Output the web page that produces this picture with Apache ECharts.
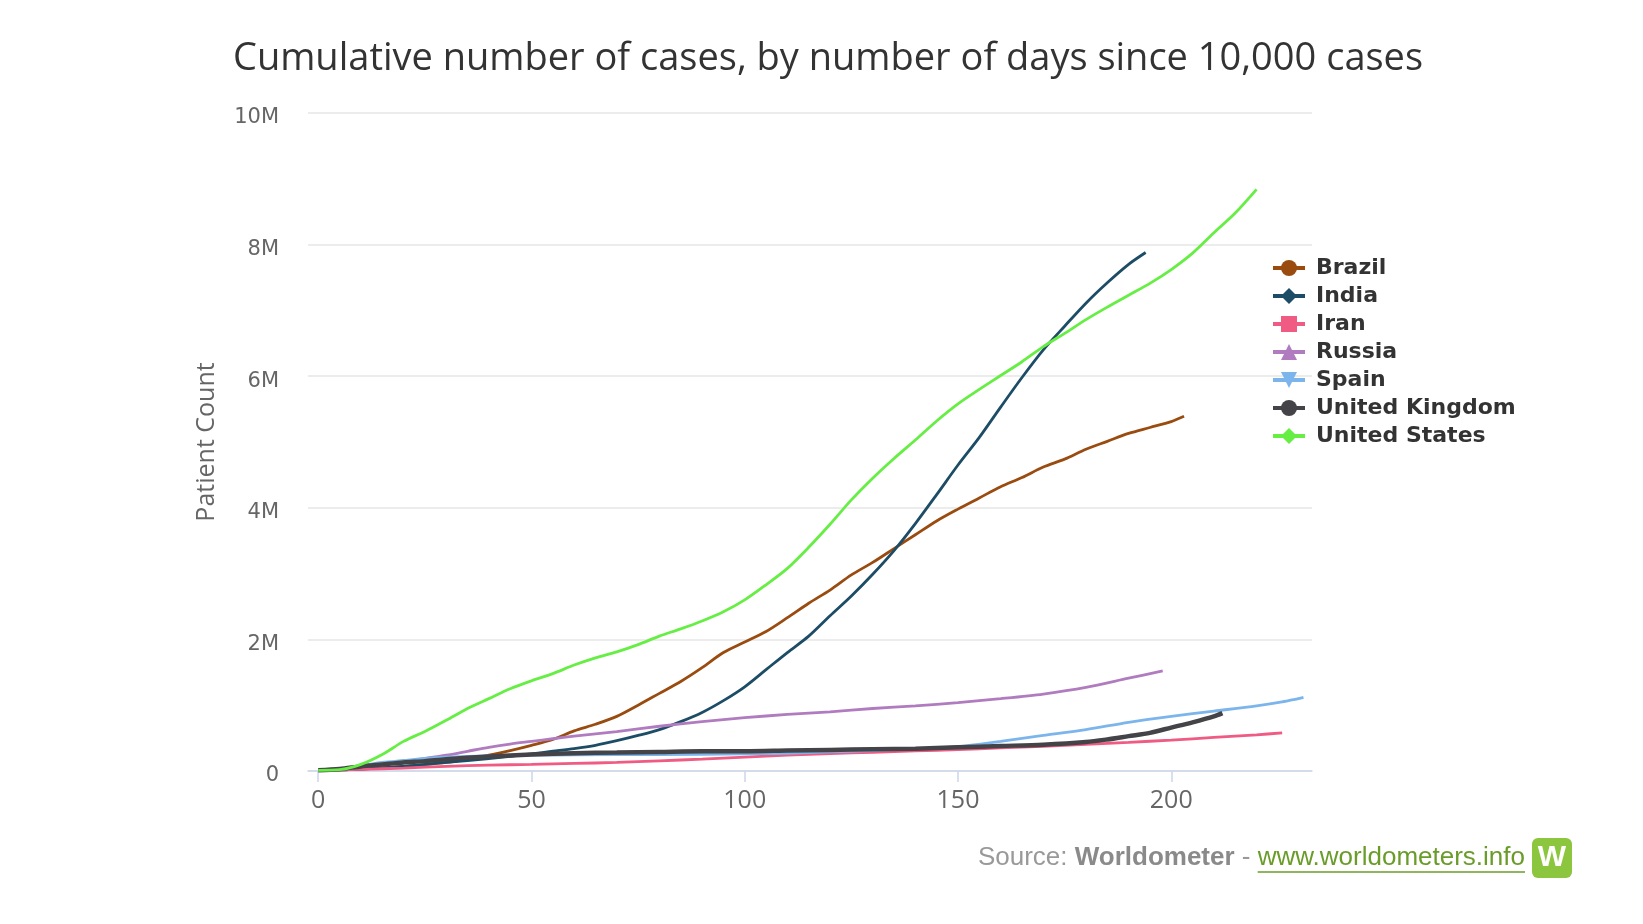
<!DOCTYPE html>
<html><head><meta charset="utf-8">
<script src="https://cdn.jsdelivr.net/npm/echarts@6/dist/echarts.min.js"></script>
<style>html,body{margin:0;padding:0;background:#fff}#c{width:1643px;height:924px}</style>
</head><body><div id="c"></div>
<script>
// ---- DATA (days since 10,000 cases; cumulative cases in millions) ----
const titleText = 'Cumulative number of cases, by number of days since 10,000 cases';
const yAxisName = 'Patient Count';
const xTickValues = [0, 50, 100, 150, 200];
const yTickLabels = ['0', '2M', '4M', '6M', '8M', '10M'];
const seriesNames = ['Brazil', 'India', 'Iran', 'Russia', 'Spain', 'United Kingdom', 'United States'];

const brazilDays  = [0, 10, 20, 30, 40, 45, 50, 55, 60, 65, 70, 75, 80, 85, 90, 95, 100, 105, 110, 115, 120, 125, 130, 135, 140, 145, 150, 155, 160, 165, 170, 175, 180, 185, 190, 195, 200, 203];
const brazilCases = [0.01, 0.03, 0.07, 0.13, 0.24, 0.31, 0.39, 0.48, 0.61, 0.71, 0.83, 1.00, 1.18, 1.36, 1.57, 1.80, 1.96, 2.12, 2.33, 2.55, 2.75, 2.98, 3.17, 3.38, 3.59, 3.80, 3.98, 4.15, 4.32, 4.46, 4.62, 4.74, 4.89, 5.01, 5.13, 5.22, 5.31, 5.39];

const indiaDays  = [0, 10, 20, 30, 40, 50, 55, 60, 65, 70, 75, 80, 85, 90, 95, 100, 105, 110, 115, 120, 125, 130, 135, 140, 145, 150, 155, 160, 165, 170, 175, 180, 185, 190, 194];
const indiaCases = [0.01, 0.03, 0.07, 0.13, 0.19, 0.26, 0.30, 0.34, 0.39, 0.46, 0.54, 0.63, 0.75, 0.89, 1.07, 1.28, 1.54, 1.80, 2.05, 2.36, 2.66, 2.99, 3.35, 3.76, 4.20, 4.65, 5.07, 5.53, 5.98, 6.40, 6.76, 7.11, 7.42, 7.70, 7.88];

const iranDays  = [0, 10, 20, 30, 40, 50, 60, 70, 80, 90, 100, 110, 120, 130, 140, 150, 160, 170, 180, 190, 200, 210, 220, 226];
const iranCases = [0.01, 0.025, 0.045, 0.07, 0.09, 0.10, 0.115, 0.13, 0.155, 0.18, 0.21, 0.24, 0.265, 0.285, 0.305, 0.325, 0.35, 0.375, 0.405, 0.435, 0.47, 0.51, 0.55, 0.58];

const russiaDays  = [0, 10, 20, 27, 30, 35, 40, 45, 50, 55, 60, 70, 80, 90, 100, 110, 120, 130, 140, 150, 160, 170, 180, 190, 198];
const russiaCases = [0.01, 0.06, 0.14, 0.21, 0.24, 0.30, 0.36, 0.41, 0.45, 0.49, 0.53, 0.60, 0.68, 0.75, 0.81, 0.86, 0.90, 0.95, 0.99, 1.04, 1.10, 1.17, 1.27, 1.41, 1.52];

const spainDays  = [0, 5, 10, 15, 20, 25, 30, 40, 50, 60, 80, 100, 110, 120, 130, 140, 150, 160, 170, 180, 190, 200, 210, 220, 226, 229, 231];
const spainCases = [0.01, 0.03, 0.08, 0.13, 0.16, 0.19, 0.21, 0.23, 0.24, 0.245, 0.25, 0.26, 0.27, 0.29, 0.31, 0.34, 0.37, 0.45, 0.54, 0.63, 0.74, 0.83, 0.91, 0.99, 1.05, 1.09, 1.12];

const ukDays  = [0, 5, 10, 15, 20, 25, 30, 40, 50, 60, 70, 80, 90, 100, 110, 120, 130, 140, 150, 160, 170, 180, 185, 190, 195, 200, 205, 210, 212];
const ukCases = [0.01, 0.03, 0.07, 0.10, 0.13, 0.15, 0.18, 0.22, 0.25, 0.27, 0.28, 0.29, 0.30, 0.30, 0.31, 0.32, 0.33, 0.34, 0.36, 0.38, 0.40, 0.44, 0.48, 0.53, 0.58, 0.66, 0.74, 0.83, 0.88];

const usDays  = [0, 5, 10, 15, 20, 25, 30, 35, 40, 45, 50, 55, 60, 65, 70, 75, 80, 85, 90, 95, 100, 105, 110, 115, 120, 125, 130, 135, 140, 145, 150, 155, 160, 165, 170, 175, 180, 185, 190, 195, 200, 205, 210, 215, 220];
const usCases = [0.01, 0.02, 0.10, 0.25, 0.45, 0.60, 0.77, 0.95, 1.10, 1.25, 1.37, 1.48, 1.61, 1.72, 1.81, 1.92, 2.05, 2.16, 2.28, 2.42, 2.60, 2.83, 3.08, 3.40, 3.75, 4.12, 4.45, 4.75, 5.03, 5.32, 5.58, 5.80, 6.01, 6.22, 6.45, 6.65, 6.86, 7.05, 7.23, 7.41, 7.62, 7.87, 8.18, 8.48, 8.84];

// ---- STYLE ----
const seriesDays  = [brazilDays, indiaDays, iranDays, russiaDays, spainDays, ukDays, usDays];
const seriesCases = [brazilCases, indiaCases, iranCases, russiaCases, spainCases, ukCases, usCases];
const colors  = ['#9a4c10', '#1d4d66', '#ef5b82', '#b07cbf', '#7cb5ec', '#434348', '#66ee44'];
const symbols = ['circle', 'diamond', 'rect', 'triangle', 'path://M0,0 L10,0 L5,10 Z', 'circle', 'diamond'];
const widths  = [2.8, 2.8, 2.8, 2.8, 2.8, 4.5, 2.8];

const chart = echarts.init(document.getElementById('c'), null, {renderer: 'canvas'});

const series = seriesNames.map((name, i) => ({
  name: name,
  type: 'line',
  data: seriesDays[i].map((d, k) => [d, seriesCases[i][k]]),
  showSymbol: false,
  symbol: symbols[i],
  smooth: 0.3,
  color: colors[i],
  lineStyle: {width: widths[i], color: colors[i]},
  itemStyle: {color: colors[i]},
  emphasis: {disabled: true},
  animation: false
}));

// source credit measurements
const cv = document.createElement('canvas').getContext('2d');
const srcFont = 26;
cv.font = srcFont + 'px "Liberation Sans"';
const linkText = 'www.worldometers.info';
const linkW = cv.measureText(linkText).width;
const dashW = cv.measureText(' - ').width;
const srcW = cv.measureText('Source: ').width;
cv.font = 'bold ' + srcFont + 'px "Liberation Sans"';
const wmW = cv.measureText('Worldometer').width;
const linkRight = 1525, srcY = 860;
const linkLeft = linkRight - linkW;

chart.setOption({
  backgroundColor: '#ffffff',
  animation: false,
  title: {
    text: titleText,
    left: 823,
    top: 35,
    textAlign: 'center',
    textStyle: {fontFamily: 'Open Sans', fontSize: 38, fontWeight: 'normal', color: '#333333'}
  },
  legend: {
    orient: 'vertical',
    left: 1266,
    top: 252,
    itemWidth: 32,
    itemHeight: 20,
    itemGap: 6,
    data: seriesNames,
    lineStyle: {width: 4},
    textStyle: {fontFamily: 'DejaVu Sans', fontWeight: 'bold', fontSize: 22, color: '#333333', padding: [0, 0, 0, 6]},
    selectedMode: false
  },
  grid: {left: 308, right: 331, top: 113, bottom: 153, containLabel: false, outerBoundsMode: 'none'},
  xAxis: {
    type: 'value',
    min: -2.4,
    max: 233,
    splitLine: {show: false},
    axisLine: {show: true, lineStyle: {color: '#ccd6eb', width: 1.5}},
    axisTick: {show: true, customValues: xTickValues, length: 11, lineStyle: {color: '#ccd6eb', width: 1.5}},
    axisLabel: {customValues: xTickValues, margin: 17, fontFamily: 'Open Sans', fontSize: 25, color: '#666666'}
  },
  yAxis: {
    type: 'value',
    min: 0,
    max: 10,
    interval: 2,
    name: yAxisName,
    nameLocation: 'middle',
    nameGap: 89,
    nameTextStyle: {fontFamily: 'Open Sans', fontSize: 25, color: '#666666'},
    axisLine: {show: false},
    axisTick: {show: false},
    splitLine: {lineStyle: {color: '#e6e6e6', width: 1.5}},
    axisLabel: {
      margin: 29,
      verticalAlign: 'top',
      lineHeight: 10,
      fontFamily: 'DejaVu Sans', fontSize: 21, color: '#666666',
      formatter: v => yTickLabels[Math.round(v / 2)]
    }
  },
  graphic: [
    {type: 'text', left: linkLeft - dashW - wmW - srcW, top: srcY - srcFont * 0.6, silent: true,
     style: {text: 'Source: ', font: srcFont + 'px "Liberation Sans"', fill: '#999999'}},
    {type: 'text', left: linkLeft - dashW - wmW, top: srcY - srcFont * 0.6, silent: true,
     style: {text: 'Worldometer', font: 'bold ' + srcFont + 'px "Liberation Sans"', fill: '#8a8a8a'}},
    {type: 'text', left: linkLeft - dashW, top: srcY - srcFont * 0.6, silent: true,
     style: {text: ' - ', font: srcFont + 'px "Liberation Sans"', fill: '#999999'}},
    {type: 'text', left: linkLeft, top: srcY - srcFont * 0.6, silent: true,
     style: {text: linkText, font: srcFont + 'px "Liberation Sans"', fill: '#6a9c2a'}},
    {type: 'line', silent: true, shape: {x1: linkLeft, y1: srcY + 12, x2: linkRight, y2: srcY + 12},
     style: {stroke: '#6a9c2a', lineWidth: 1.5}},
    {type: 'rect', silent: true, shape: {x: 1532, y: 838, width: 40, height: 40, r: 6},
     style: {fill: '#8cc63e'}},
    {type: 'text', silent: true, x: 1552, y: 858,
     style: {text: 'W', font: 'bold 30px "Liberation Sans"', fill: '#ffffff', align: 'center', verticalAlign: 'middle'}}
  ],
  series: series
});
</script>
</body></html>
